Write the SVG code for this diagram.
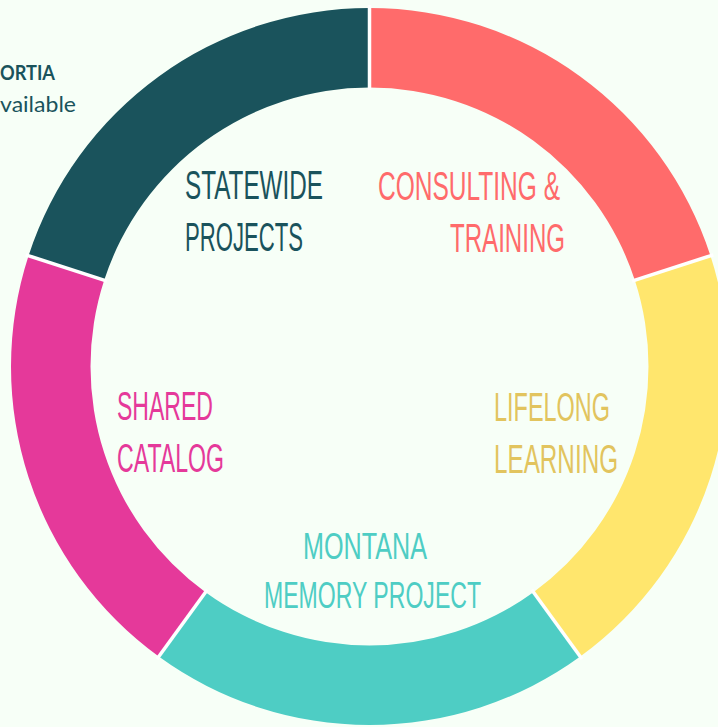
<svg xmlns="http://www.w3.org/2000/svg" width="718" height="727" viewBox="0 0 718 727">
<style>
.lbl{font-family:"Liberation Sans",Arial,sans-serif;font-size:40px;}
.mm{font-size:37px;}
.side{font-family:Lato,"Liberation Sans",sans-serif;font-size:21px;fill:#1a535c;}
.sep{stroke:#ffffff;stroke-width:3.5;fill:none;}
</style>
<rect width="718" height="727" fill="#f7fff7"/>
<g id="side-text">
<text class="side" x="0" y="80" font-weight="bold" textLength="55" lengthAdjust="spacingAndGlyphs">ORTIA</text>
<text class="side" x="0" y="112" textLength="76" lengthAdjust="spacingAndGlyphs">vailable</text>
</g>
<g id="statewide-projects">
<path d="M28.55 255.72 A358.5 358.5 0 0 1 369.5 8 L369.5 87.5 A279 279 0 0 0 104.16 280.28 Z" fill="#1a535c"/>
<text class="lbl" fill="#1a535c" transform="translate(185 199) scale(0.6 1)" textLength="230" lengthAdjust="spacingAndGlyphs">STATEWIDE</text>
<text class="lbl" fill="#1a535c" transform="translate(185 251) scale(0.6 1)" textLength="196.7" lengthAdjust="spacingAndGlyphs">PROJECTS</text>
</g>
<g id="consulting-training">
<path d="M369.5 8 A358.5 358.5 0 0 1 710.45 255.72 L634.84 280.28 A279 279 0 0 0 369.5 87.5 Z" fill="#ff6b6b"/>
<text class="lbl" fill="#ff6b6b" transform="translate(378 200) scale(0.6 1)" textLength="303.3" lengthAdjust="spacingAndGlyphs">CONSULTING &amp;</text>
<text class="lbl" fill="#ff6b6b" transform="translate(450 252) scale(0.6 1)" textLength="191.7" lengthAdjust="spacingAndGlyphs">TRAINING</text>
</g>
<g id="lifelong-learning">
<path d="M710.45 255.72 A358.5 358.5 0 0 1 580.22 656.53 L533.49 592.22 A279 279 0 0 0 634.84 280.28 Z" fill="#ffe66d"/>
<text class="lbl" fill="#e2c45e" transform="translate(494 421) scale(0.6 1)" textLength="193.3" lengthAdjust="spacingAndGlyphs">LIFELONG</text>
<text class="lbl" fill="#e2c45e" transform="translate(494 473) scale(0.6 1)" textLength="206.7" lengthAdjust="spacingAndGlyphs">LEARNING</text>
</g>
<g id="montana-memory-project">
<path d="M580.22 656.53 A358.5 358.5 0 0 1 158.78 656.53 L205.51 592.22 A279 279 0 0 0 533.49 592.22 Z" fill="#4ecdc4"/>
<text class="lbl mm" fill="#4ecdc4" transform="translate(303 559) scale(0.6 1)" textLength="206.7" lengthAdjust="spacingAndGlyphs">MONTANA</text>
<text class="lbl mm" fill="#4ecdc4" transform="translate(264 608) scale(0.6 1)" textLength="361.7" lengthAdjust="spacingAndGlyphs">MEMORY PROJECT</text>
</g>
<g id="shared-catalog">
<path d="M158.78 656.53 A358.5 358.5 0 0 1 28.55 255.72 L104.16 280.28 A279 279 0 0 0 205.51 592.22 Z" fill="#e5399a"/>
<text class="lbl" fill="#e5399a" transform="translate(117 420) scale(0.6 1)" textLength="160" lengthAdjust="spacingAndGlyphs">SHARED</text>
<text class="lbl" fill="#e5399a" transform="translate(117 472) scale(0.6 1)" textLength="178.3" lengthAdjust="spacingAndGlyphs">CATALOG</text>
</g>
<g id="connectors">
<line class="sep" x1="369.5" y1="5" x2="369.5" y2="90"/>
<line class="sep" x1="713.3" y1="254.8" x2="632" y2="281.2"/>
<line class="sep" x1="582" y1="659" x2="531.7" y2="589.8"/>
<line class="sep" x1="157" y1="659" x2="207.3" y2="589.8"/>
<line class="sep" x1="25.7" y1="254.8" x2="107" y2="281.2"/>
</g>
</svg>
